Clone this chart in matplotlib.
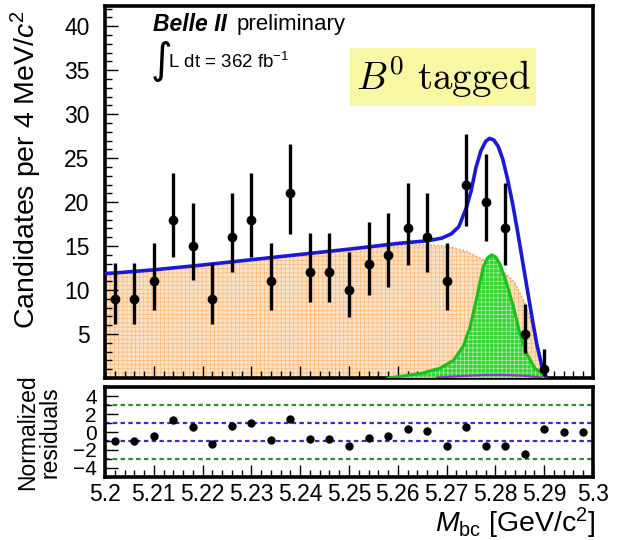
import matplotlib
matplotlib.use('Agg')

import matplotlib.pyplot as plt
from matplotlib.ticker import MultipleLocator, FixedLocator
import numpy as np

plt.rcParams['font.family'] = ['Liberation Sans', 'DejaVu Sans']
plt.rcParams['mathtext.fontset'] = 'custom'
plt.rcParams['mathtext.rm'] = 'Liberation Sans'
plt.rcParams['mathtext.it'] = 'Liberation Sans:italic'
plt.rcParams['mathtext.bf'] = 'Liberation Sans:bold'
plt.rcParams['hatch.linewidth'] = 0.5

# Mbc bin centres (4 MeV bins) and observed candidates
mbc = [5.202, 5.206, 5.210, 5.214, 5.218, 5.222, 5.226, 5.230, 5.234, 5.238,
       5.242, 5.246, 5.250, 5.254, 5.258, 5.262, 5.266, 5.270, 5.274, 5.278,
       5.282, 5.286, 5.290, 5.294, 5.298]
counts = [9, 9, 11, 18, 15, 9, 16, 18, 11, 21,
          12, 12, 10, 13, 14, 17, 16, 11, 22, 20,
          17, 5, 1, 0, 0]
# asymmetric Poisson errors
err_lo = [2.9, 2.9, 3.3, 4.2, 3.8, 2.9, 4.0, 4.2, 3.3, 4.6,
          3.4, 3.4, 3.1, 3.6, 3.7, 4.1, 4.0, 3.3, 4.7, 4.4,
          4.1, 2.2, 0.8, 0.0, 0.0]
err_hi = [4.1, 4.1, 4.4, 5.3, 4.9, 4.1, 5.0, 5.3, 4.4, 5.6,
          4.5, 4.5, 4.3, 4.7, 4.8, 5.2, 5.0, 4.4, 5.7, 5.5,
          5.2, 3.4, 2.3, 0.0, 0.0]
# normalized residuals per bin
resid = [-1.0, -1.0, -0.45, 1.3, 0.55, -1.35, 0.65, 1.0, -0.9, 1.4,
         -0.75, -0.75, -1.55, -0.65, -0.4, 0.35, 0.1, -1.55, 0.55, -1.55,
         -1.6, -2.4, 0.35, 0.0, 0.0]

# fitted components
bkg_m = [5.200, 5.210, 5.220, 5.230, 5.240, 5.250, 5.255, 5.260, 5.265, 5.268,
         5.271, 5.274, 5.277, 5.280, 5.282, 5.284, 5.286, 5.288, 5.289, 5.2897,
         5.2905]
bkg_y = [11.85, 12.3, 12.85, 13.45, 14.05, 14.6, 14.85, 15.05, 15.15, 15.1,
         14.85, 14.4, 13.6, 12.7, 11.9, 10.8, 8.5, 5.2, 3.2, 1.4,
         0.0]
sig_m = [5.258, 5.2646, 5.2686, 5.2714, 5.2734, 5.2748, 5.2762, 5.2775, 5.2783,
         5.2792, 5.2800, 5.2809, 5.2823, 5.2837, 5.2850, 5.2864, 5.2881, 5.2898,
         5.2905]
sig_y = [0.0, 0.5, 1.1, 2.0, 3.6, 5.8, 9.2, 12.6, 13.6,
         14.0, 13.8, 13.0, 10.8, 8.1, 5.1, 2.8, 1.1, 0.4,
         0.0]
tot_m = [5.200, 5.210, 5.220, 5.230, 5.240, 5.250, 5.260, 5.266, 5.269, 5.271,
         5.2725, 5.274, 5.275, 5.276, 5.277, 5.278, 5.2788, 5.2797, 5.2806, 5.2815,
         5.2825, 5.2835, 5.2845, 5.2855, 5.2865, 5.2875, 5.2885, 5.2895, 5.2905]
tot_y = [11.85, 12.3, 12.85, 13.45, 14.05, 14.65, 15.3, 15.6, 15.9, 16.4,
         17.2, 19.3, 21.2, 23.9, 25.8, 26.9, 27.25, 27.05, 26.3, 24.9,
         22.6, 19.9, 16.8, 13.5, 10.2, 6.9, 3.8, 1.4, 0.0]
peak_m = [5.268, 5.274, 5.278, 5.282, 5.286, 5.2895]
peak_y = [0.05, 0.25, 0.35, 0.35, 0.25, 0.05]

fig = plt.figure(figsize=(6.25, 5.4), dpi=100)
ax = fig.add_axes([0.168, 0.30, 0.7808, 0.6889])
axr = fig.add_axes([0.168, 0.1167, 0.7808, 0.1666])

# background (orange) and signal (green) areas
ax.fill_between(bkg_m, 0, bkg_y, facecolor='#fde2c4', edgecolor='#f7bb80',
                hatch='++++', linewidth=0, zorder=1)
ax.plot(bkg_m, bkg_y, color='#f0a055', lw=1.2, ls=(0, (1, 1.2)), zorder=2)
ax.fill_between(sig_m, 0, sig_y, facecolor='#36d236', edgecolor='#a8f0a0',
                hatch='++++', linewidth=0, zorder=3)
ax.plot(sig_m, sig_y, color='#18c018', lw=2.2, zorder=4)
ax.plot(peak_m, peak_y, color='#9933cc', lw=1.5, zorder=4)
ax.plot(tot_m, tot_y, color='#1a1ad6', lw=2.6, zorder=5)

# data points, empty bins are not drawn
m = np.array(mbc)
n = np.array(counts)
shown = n > 0
ax.errorbar(m[shown], n[shown],
            yerr=[np.array(err_lo)[shown], np.array(err_hi)[shown]],
            fmt='o', color='black', ms=6, elinewidth=2.4, capsize=0, zorder=6)

ax.set_xlim(5.2, 5.3)
ax.set_ylim(0, 42.3)
ax.yaxis.set_major_locator(FixedLocator([5, 10, 15, 20, 25, 30, 35, 40]))
ax.yaxis.set_minor_locator(MultipleLocator(1))
ax.xaxis.set_major_locator(MultipleLocator(0.01))
ax.xaxis.set_minor_locator(MultipleLocator(0.002))
ax.tick_params(axis='both', which='both', direction='in', top=False, right=False)
ax.tick_params(axis='y', which='major', length=9, width=1, labelsize=16.5, pad=11)
ax.tick_params(axis='y', which='minor', length=5, width=1)
ax.tick_params(axis='x', which='major', length=9, width=1, labelbottom=False)
ax.tick_params(axis='x', which='minor', length=5, width=1)
ax.set_ylabel('Candidates per 4 MeV/$c^2$', fontsize=20.5)
ax.yaxis.set_label_coords(-0.125, 0.56)

for a in (ax, axr):
    for s in a.spines.values():
        s.set_linewidth(2.6)

# experiment labels
ax.text(0.098, 0.949, 'Belle II', transform=ax.transAxes, fontsize=16.5,
        fontweight='bold', fontstyle='italic', va='center')
ax.text(0.27, 0.949, 'preliminary', transform=ax.transAxes, fontsize=16,
        va='center')
ax.text(0.093, 0.852, '\u222b', transform=ax.transAxes, fontsize=30,
        family='DejaVu Sans', va='center')
ax.text(0.129, 0.849, 'L dt = 362 fb$^{-1}$', transform=ax.transAxes,
        fontsize=13.5, va='center')
ax.text(0.693, 0.809, r'$B^0\ \mathrm{tagged}$', transform=ax.transAxes,
        fontsize=28, math_fontfamily='cm', ha='center', va='center',
        bbox=dict(boxstyle='square,pad=0.15', facecolor='#f8f8a4',
                  edgecolor='none'))

# residual panel
for lvl, col in ((3, '#2e8b2e'), (1, '#3030c8'), (-1, '#3030c8'), (-3, '#2e8b2e')):
    axr.axhline(lvl, color=col, lw=1.6, ls=(0, (2, 1.5)), zorder=1)
axr.plot(mbc, resid, 'o', color='black', ms=5, zorder=3)
axr.set_xlim(5.2, 5.3)
axr.set_ylim(-5, 5)
axr.yaxis.set_major_locator(FixedLocator([-4, -2, 0, 2, 4]))
axr.yaxis.set_minor_locator(MultipleLocator(1))
axr.xaxis.set_major_locator(MultipleLocator(0.01))
axr.xaxis.set_minor_locator(MultipleLocator(0.002))
axr.xaxis.set_major_formatter(plt.FuncFormatter(lambda v, p: ('%.2f' % v).rstrip('0')))
axr.tick_params(axis='both', which='both', direction='in', top=False, right=False)
axr.tick_params(axis='y', which='major', length=9, width=1, labelsize=15, pad=6)
axr.tick_params(axis='y', which='minor', length=5, width=1)
axr.tick_params(axis='x', which='major', length=9, width=1, labelsize=16.5, pad=4)
axr.tick_params(axis='x', which='minor', length=5, width=1)
axr.set_ylabel('Normalized\nresiduals', fontsize=16.5, linespacing=0.95)
axr.yaxis.set_label_coords(-0.09, 0.5)
axr.set_xlabel(r'$M_{\rm bc}$ [GeV/c$^2$]', fontsize=20.5)
axr.xaxis.set_label_coords(1.005, -0.32)
axr.xaxis.label.set_horizontalalignment('right')

fig.savefig('out.png', dpi=100)
